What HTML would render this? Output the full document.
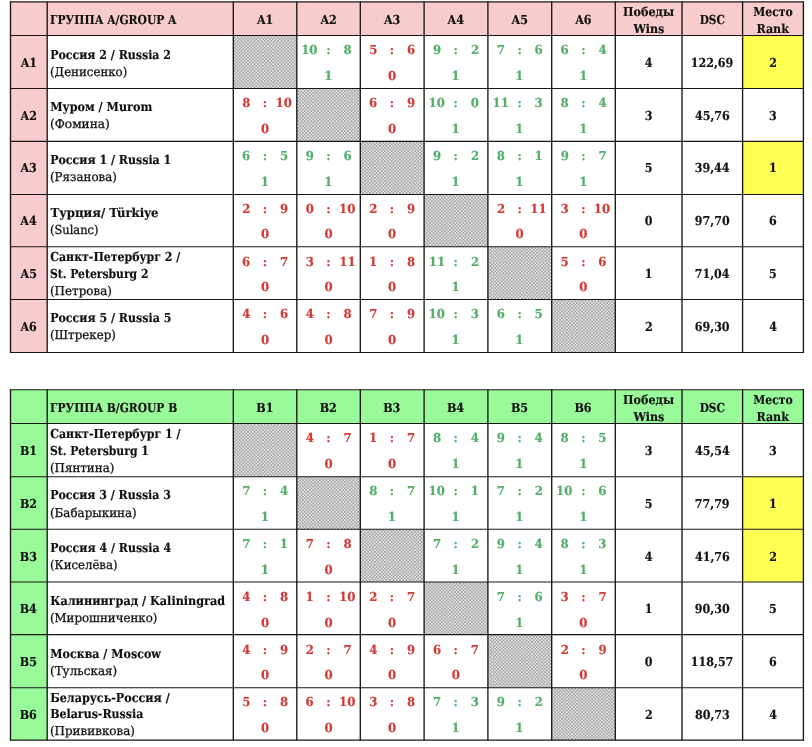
<!DOCTYPE html>
<html lang="ru"><head><meta charset="utf-8"><title>Groups A / B</title>
<style>
html,body{margin:0;padding:0;background:#fff;}
body{width:812px;height:747px;overflow:hidden;}
svg{display:block;font-family:"DejaVu Serif Condensed","DejaVu Serif","Liberation Serif",serif;text-rendering:geometricPrecision;font-stretch:condensed;}
</style></head><body>
<svg width="812" height="747" viewBox="0 0 812 747">
<defs><pattern id="chk" width="3.34" height="3.34" patternUnits="userSpaceOnUse">
<rect width="3.34" height="3.34" fill="#e6e6e6"/><rect width="1.67" height="1.67" fill="#a2a2a2"/><rect x="1.67" y="1.67" width="1.67" height="1.67" fill="#a2a2a2"/>
</pattern></defs>
<rect width="812" height="747" fill="#fff"/>
<rect x="10.50" y="1.90" width="792.90" height="33.60" fill="#f8cccc"/>
<rect x="10.50" y="1.90" width="36.70" height="350.55" fill="#f8cccc"/>
<rect x="233.30" y="35.50" width="63.50" height="53.00" fill="url(#chk)"/>
<rect x="742.60" y="35.50" width="60.80" height="53.00" fill="#ffff54"/>
<rect x="296.80" y="88.50" width="63.50" height="52.90" fill="url(#chk)"/>
<rect x="360.30" y="141.40" width="63.80" height="53.10" fill="url(#chk)"/>
<rect x="742.60" y="141.40" width="60.80" height="53.10" fill="#ffff54"/>
<rect x="424.10" y="194.50" width="63.80" height="52.30" fill="url(#chk)"/>
<rect x="487.90" y="246.80" width="63.80" height="52.70" fill="url(#chk)"/>
<rect x="551.70" y="299.50" width="63.60" height="52.95" fill="url(#chk)"/>
<line x1="10.50" y1="1.40" x2="10.50" y2="352.95" stroke="#1a1617" stroke-width="1.35"/>
<line x1="47.20" y1="1.40" x2="47.20" y2="352.95" stroke="#1a1617" stroke-width="1.35"/>
<line x1="233.30" y1="1.40" x2="233.30" y2="352.95" stroke="#1a1617" stroke-width="1.35"/>
<line x1="296.80" y1="1.40" x2="296.80" y2="352.95" stroke="#1a1617" stroke-width="1.35"/>
<line x1="360.30" y1="1.40" x2="360.30" y2="352.95" stroke="#1a1617" stroke-width="1.35"/>
<line x1="424.10" y1="1.40" x2="424.10" y2="352.95" stroke="#1a1617" stroke-width="1.35"/>
<line x1="487.90" y1="1.40" x2="487.90" y2="352.95" stroke="#1a1617" stroke-width="1.35"/>
<line x1="551.70" y1="1.40" x2="551.70" y2="352.95" stroke="#1a1617" stroke-width="1.35"/>
<line x1="615.30" y1="1.40" x2="615.30" y2="352.95" stroke="#1a1617" stroke-width="1.35"/>
<line x1="682.00" y1="1.40" x2="682.00" y2="352.95" stroke="#1a1617" stroke-width="1.35"/>
<line x1="742.60" y1="1.40" x2="742.60" y2="352.95" stroke="#1a1617" stroke-width="1.35"/>
<line x1="803.40" y1="1.40" x2="803.40" y2="352.95" stroke="#1a1617" stroke-width="1.35"/>
<line x1="9.90" y1="1.90" x2="804.00" y2="1.90" stroke="#1a1617" stroke-width="1.1"/>
<line x1="9.90" y1="35.50" x2="804.00" y2="35.50" stroke="#1a1617" stroke-width="1.1"/>
<line x1="9.90" y1="88.50" x2="804.00" y2="88.50" stroke="#1a1617" stroke-width="1.1"/>
<line x1="9.90" y1="141.40" x2="804.00" y2="141.40" stroke="#1a1617" stroke-width="1.1"/>
<line x1="9.90" y1="194.50" x2="804.00" y2="194.50" stroke="#1a1617" stroke-width="1.1"/>
<line x1="9.90" y1="246.80" x2="804.00" y2="246.80" stroke="#1a1617" stroke-width="1.1"/>
<line x1="9.90" y1="299.50" x2="804.00" y2="299.50" stroke="#1a1617" stroke-width="1.1"/>
<line x1="9.90" y1="352.45" x2="804.00" y2="352.45" stroke="#1a1617" stroke-width="1.1"/>
<text x="50.12" y="24.00" textLength="126.33" lengthAdjust="spacingAndGlyphs" font-size="12.35" font-weight="bold" fill="#111111" stroke="#111111" stroke-width="0.15">ГРУППА A/GROUP A</text>
<text x="256.97" y="24.00" textLength="16.35" lengthAdjust="spacingAndGlyphs" font-size="12.35" font-weight="bold" fill="#111111" stroke="#111111" stroke-width="0.15">A1</text>
<text x="320.41" y="24.00" textLength="16.35" lengthAdjust="spacingAndGlyphs" font-size="12.35" font-weight="bold" fill="#111111" stroke="#111111" stroke-width="0.15">A2</text>
<text x="383.92" y="24.00" textLength="16.35" lengthAdjust="spacingAndGlyphs" font-size="12.35" font-weight="bold" fill="#111111" stroke="#111111" stroke-width="0.15">A3</text>
<text x="447.60" y="24.00" textLength="16.35" lengthAdjust="spacingAndGlyphs" font-size="12.35" font-weight="bold" fill="#111111" stroke="#111111" stroke-width="0.15">A4</text>
<text x="511.58" y="24.00" textLength="16.35" lengthAdjust="spacingAndGlyphs" font-size="12.35" font-weight="bold" fill="#111111" stroke="#111111" stroke-width="0.15">A5</text>
<text x="575.16" y="24.00" textLength="16.35" lengthAdjust="spacingAndGlyphs" font-size="12.35" font-weight="bold" fill="#111111" stroke="#111111" stroke-width="0.15">A6</text>
<text x="623.13" y="16.00" textLength="50.93" lengthAdjust="spacingAndGlyphs" font-size="12.35" font-weight="bold" fill="#111111" stroke="#111111" stroke-width="0.15">Победы</text>
<text x="633.51" y="33.00" textLength="30.82" lengthAdjust="spacingAndGlyphs" font-size="12.35" font-weight="bold" fill="#111111" stroke="#111111" stroke-width="0.15">Wins</text>
<text x="699.68" y="24.00" textLength="25.29" lengthAdjust="spacingAndGlyphs" font-size="12.35" font-weight="bold" fill="#111111" stroke="#111111" stroke-width="0.15">DSC</text>
<text x="753.25" y="16.00" textLength="39.46" lengthAdjust="spacingAndGlyphs" font-size="12.35" font-weight="bold" fill="#111111" stroke="#111111" stroke-width="0.15">Место</text>
<text x="756.40" y="33.00" textLength="32.50" lengthAdjust="spacingAndGlyphs" font-size="12.35" font-weight="bold" fill="#111111" stroke="#111111" stroke-width="0.15">Rank</text>
<text x="20.67" y="67.00" textLength="16.35" lengthAdjust="spacingAndGlyphs" font-size="12.35" font-weight="bold" fill="#111111" stroke="#111111" stroke-width="0.15">A1</text>
<text x="50.21" y="59.00" textLength="120.76" lengthAdjust="spacingAndGlyphs" font-size="12.35" font-weight="bold" fill="#111111" stroke="#111111" stroke-width="0.15">Россия 2 / Russia 2</text>
<text x="49.98" y="76.00" textLength="77.33" lengthAdjust="spacingAndGlyphs" font-size="12.35" font-weight="normal" fill="#111111" stroke="#111111" stroke-width="0.25">(Денисенко)</text>
<text x="301.18" y="54.00" textLength="16.39" lengthAdjust="spacingAndGlyphs" font-size="12.35" font-weight="bold" fill="#52ae68" stroke="#52ae68" stroke-width="0.15">10</text>
<text x="326.32" y="54.00" textLength="4.35" lengthAdjust="spacingAndGlyphs" font-size="12.35" font-weight="bold" fill="#52ae68" stroke="#52ae68" stroke-width="0.15">:</text>
<text x="343.51" y="54.00" textLength="8.19" lengthAdjust="spacingAndGlyphs" font-size="12.35" font-weight="bold" fill="#52ae68" stroke="#52ae68" stroke-width="0.15">8</text>
<text x="324.28" y="80.00" textLength="8.19" lengthAdjust="spacingAndGlyphs" font-size="12.35" font-weight="bold" fill="#52ae68" stroke="#52ae68" stroke-width="0.15">1</text>
<text x="369.16" y="54.00" textLength="8.19" lengthAdjust="spacingAndGlyphs" font-size="12.35" font-weight="bold" fill="#d23b35" stroke="#d23b35" stroke-width="0.15">5</text>
<text x="389.82" y="54.00" textLength="4.35" lengthAdjust="spacingAndGlyphs" font-size="12.35" font-weight="bold" fill="#d23b35" stroke="#d23b35" stroke-width="0.15">:</text>
<text x="406.94" y="54.00" textLength="8.19" lengthAdjust="spacingAndGlyphs" font-size="12.35" font-weight="bold" fill="#d23b35" stroke="#d23b35" stroke-width="0.15">6</text>
<text x="387.91" y="80.00" textLength="8.19" lengthAdjust="spacingAndGlyphs" font-size="12.35" font-weight="bold" fill="#d23b35" stroke="#d23b35" stroke-width="0.15">0</text>
<text x="433.06" y="54.00" textLength="8.19" lengthAdjust="spacingAndGlyphs" font-size="12.35" font-weight="bold" fill="#52ae68" stroke="#52ae68" stroke-width="0.15">9</text>
<text x="453.62" y="54.00" textLength="4.35" lengthAdjust="spacingAndGlyphs" font-size="12.35" font-weight="bold" fill="#52ae68" stroke="#52ae68" stroke-width="0.15">:</text>
<text x="470.92" y="54.00" textLength="8.19" lengthAdjust="spacingAndGlyphs" font-size="12.35" font-weight="bold" fill="#52ae68" stroke="#52ae68" stroke-width="0.15">2</text>
<text x="451.58" y="80.00" textLength="8.19" lengthAdjust="spacingAndGlyphs" font-size="12.35" font-weight="bold" fill="#52ae68" stroke="#52ae68" stroke-width="0.15">1</text>
<text x="496.83" y="54.00" textLength="8.19" lengthAdjust="spacingAndGlyphs" font-size="12.35" font-weight="bold" fill="#52ae68" stroke="#52ae68" stroke-width="0.15">7</text>
<text x="517.42" y="54.00" textLength="4.35" lengthAdjust="spacingAndGlyphs" font-size="12.35" font-weight="bold" fill="#52ae68" stroke="#52ae68" stroke-width="0.15">:</text>
<text x="534.54" y="54.00" textLength="8.19" lengthAdjust="spacingAndGlyphs" font-size="12.35" font-weight="bold" fill="#52ae68" stroke="#52ae68" stroke-width="0.15">6</text>
<text x="515.38" y="80.00" textLength="8.19" lengthAdjust="spacingAndGlyphs" font-size="12.35" font-weight="bold" fill="#52ae68" stroke="#52ae68" stroke-width="0.15">1</text>
<text x="560.54" y="54.00" textLength="8.19" lengthAdjust="spacingAndGlyphs" font-size="12.35" font-weight="bold" fill="#52ae68" stroke="#52ae68" stroke-width="0.15">6</text>
<text x="581.22" y="54.00" textLength="4.35" lengthAdjust="spacingAndGlyphs" font-size="12.35" font-weight="bold" fill="#52ae68" stroke="#52ae68" stroke-width="0.15">:</text>
<text x="598.41" y="54.00" textLength="8.19" lengthAdjust="spacingAndGlyphs" font-size="12.35" font-weight="bold" fill="#52ae68" stroke="#52ae68" stroke-width="0.15">4</text>
<text x="579.18" y="80.00" textLength="8.19" lengthAdjust="spacingAndGlyphs" font-size="12.35" font-weight="bold" fill="#52ae68" stroke="#52ae68" stroke-width="0.15">1</text>
<text x="644.79" y="67.00" textLength="7.73" lengthAdjust="spacingAndGlyphs" font-size="12.35" font-weight="bold" fill="#111111" stroke="#111111" stroke-width="0.15">4</text>
<text x="690.72" y="67.00" textLength="42.52" lengthAdjust="spacingAndGlyphs" font-size="12.35" font-weight="bold" fill="#111111" stroke="#111111" stroke-width="0.15">122,69</text>
<text x="769.25" y="67.00" textLength="7.73" lengthAdjust="spacingAndGlyphs" font-size="12.35" font-weight="bold" fill="#111111" stroke="#111111" stroke-width="0.15">2</text>
<text x="20.61" y="120.00" textLength="16.35" lengthAdjust="spacingAndGlyphs" font-size="12.35" font-weight="bold" fill="#111111" stroke="#111111" stroke-width="0.15">A2</text>
<text x="50.23" y="111.00" textLength="102.00" lengthAdjust="spacingAndGlyphs" font-size="12.35" font-weight="bold" fill="#111111" stroke="#111111" stroke-width="0.15">Муром / Murom</text>
<text x="49.95" y="128.00" textLength="59.91" lengthAdjust="spacingAndGlyphs" font-size="12.35" font-weight="normal" fill="#111111" stroke="#111111" stroke-width="0.25">(Фомина)</text>
<text x="242.21" y="107.00" textLength="8.19" lengthAdjust="spacingAndGlyphs" font-size="12.35" font-weight="bold" fill="#d23b35" stroke="#d23b35" stroke-width="0.15">8</text>
<text x="262.82" y="107.00" textLength="4.35" lengthAdjust="spacingAndGlyphs" font-size="12.35" font-weight="bold" fill="#d23b35" stroke="#d23b35" stroke-width="0.15">:</text>
<text x="275.48" y="107.00" textLength="16.39" lengthAdjust="spacingAndGlyphs" font-size="12.35" font-weight="bold" fill="#d23b35" stroke="#d23b35" stroke-width="0.15">10</text>
<text x="260.91" y="133.00" textLength="8.19" lengthAdjust="spacingAndGlyphs" font-size="12.35" font-weight="bold" fill="#d23b35" stroke="#d23b35" stroke-width="0.15">0</text>
<text x="369.14" y="107.00" textLength="8.19" lengthAdjust="spacingAndGlyphs" font-size="12.35" font-weight="bold" fill="#d23b35" stroke="#d23b35" stroke-width="0.15">6</text>
<text x="389.82" y="107.00" textLength="4.35" lengthAdjust="spacingAndGlyphs" font-size="12.35" font-weight="bold" fill="#d23b35" stroke="#d23b35" stroke-width="0.15">:</text>
<text x="407.06" y="107.00" textLength="8.19" lengthAdjust="spacingAndGlyphs" font-size="12.35" font-weight="bold" fill="#d23b35" stroke="#d23b35" stroke-width="0.15">9</text>
<text x="387.91" y="133.00" textLength="8.19" lengthAdjust="spacingAndGlyphs" font-size="12.35" font-weight="bold" fill="#d23b35" stroke="#d23b35" stroke-width="0.15">0</text>
<text x="428.48" y="107.00" textLength="16.39" lengthAdjust="spacingAndGlyphs" font-size="12.35" font-weight="bold" fill="#52ae68" stroke="#52ae68" stroke-width="0.15">10</text>
<text x="453.62" y="107.00" textLength="4.35" lengthAdjust="spacingAndGlyphs" font-size="12.35" font-weight="bold" fill="#52ae68" stroke="#52ae68" stroke-width="0.15">:</text>
<text x="470.81" y="107.00" textLength="8.19" lengthAdjust="spacingAndGlyphs" font-size="12.35" font-weight="bold" fill="#52ae68" stroke="#52ae68" stroke-width="0.15">0</text>
<text x="451.58" y="133.00" textLength="8.19" lengthAdjust="spacingAndGlyphs" font-size="12.35" font-weight="bold" fill="#52ae68" stroke="#52ae68" stroke-width="0.15">1</text>
<text x="492.59" y="107.00" textLength="16.39" lengthAdjust="spacingAndGlyphs" font-size="12.35" font-weight="bold" fill="#52ae68" stroke="#52ae68" stroke-width="0.15">11</text>
<text x="517.42" y="107.00" textLength="4.35" lengthAdjust="spacingAndGlyphs" font-size="12.35" font-weight="bold" fill="#52ae68" stroke="#52ae68" stroke-width="0.15">:</text>
<text x="534.56" y="107.00" textLength="8.19" lengthAdjust="spacingAndGlyphs" font-size="12.35" font-weight="bold" fill="#52ae68" stroke="#52ae68" stroke-width="0.15">3</text>
<text x="515.38" y="133.00" textLength="8.19" lengthAdjust="spacingAndGlyphs" font-size="12.35" font-weight="bold" fill="#52ae68" stroke="#52ae68" stroke-width="0.15">1</text>
<text x="560.61" y="107.00" textLength="8.19" lengthAdjust="spacingAndGlyphs" font-size="12.35" font-weight="bold" fill="#52ae68" stroke="#52ae68" stroke-width="0.15">8</text>
<text x="581.22" y="107.00" textLength="4.35" lengthAdjust="spacingAndGlyphs" font-size="12.35" font-weight="bold" fill="#52ae68" stroke="#52ae68" stroke-width="0.15">:</text>
<text x="598.41" y="107.00" textLength="8.19" lengthAdjust="spacingAndGlyphs" font-size="12.35" font-weight="bold" fill="#52ae68" stroke="#52ae68" stroke-width="0.15">4</text>
<text x="579.18" y="133.00" textLength="8.19" lengthAdjust="spacingAndGlyphs" font-size="12.35" font-weight="bold" fill="#52ae68" stroke="#52ae68" stroke-width="0.15">1</text>
<text x="644.74" y="120.00" textLength="7.73" lengthAdjust="spacingAndGlyphs" font-size="12.35" font-weight="bold" fill="#111111" stroke="#111111" stroke-width="0.15">3</text>
<text x="694.98" y="120.00" textLength="34.79" lengthAdjust="spacingAndGlyphs" font-size="12.35" font-weight="bold" fill="#111111" stroke="#111111" stroke-width="0.15">45,76</text>
<text x="769.09" y="120.00" textLength="7.73" lengthAdjust="spacingAndGlyphs" font-size="12.35" font-weight="bold" fill="#111111" stroke="#111111" stroke-width="0.15">3</text>
<text x="20.47" y="172.00" textLength="16.35" lengthAdjust="spacingAndGlyphs" font-size="12.35" font-weight="bold" fill="#111111" stroke="#111111" stroke-width="0.15">A3</text>
<text x="50.21" y="164.00" textLength="121.08" lengthAdjust="spacingAndGlyphs" font-size="12.35" font-weight="bold" fill="#111111" stroke="#111111" stroke-width="0.15">Россия 1 / Russia 1</text>
<text x="49.98" y="181.00" textLength="66.85" lengthAdjust="spacingAndGlyphs" font-size="12.35" font-weight="normal" fill="#111111" stroke="#111111" stroke-width="0.25">(Рязанова)</text>
<text x="242.14" y="160.00" textLength="8.19" lengthAdjust="spacingAndGlyphs" font-size="12.35" font-weight="bold" fill="#52ae68" stroke="#52ae68" stroke-width="0.15">6</text>
<text x="262.82" y="160.00" textLength="4.35" lengthAdjust="spacingAndGlyphs" font-size="12.35" font-weight="bold" fill="#52ae68" stroke="#52ae68" stroke-width="0.15">:</text>
<text x="279.96" y="160.00" textLength="8.19" lengthAdjust="spacingAndGlyphs" font-size="12.35" font-weight="bold" fill="#52ae68" stroke="#52ae68" stroke-width="0.15">5</text>
<text x="260.78" y="186.00" textLength="8.19" lengthAdjust="spacingAndGlyphs" font-size="12.35" font-weight="bold" fill="#52ae68" stroke="#52ae68" stroke-width="0.15">1</text>
<text x="305.76" y="160.00" textLength="8.19" lengthAdjust="spacingAndGlyphs" font-size="12.35" font-weight="bold" fill="#52ae68" stroke="#52ae68" stroke-width="0.15">9</text>
<text x="326.32" y="160.00" textLength="4.35" lengthAdjust="spacingAndGlyphs" font-size="12.35" font-weight="bold" fill="#52ae68" stroke="#52ae68" stroke-width="0.15">:</text>
<text x="343.44" y="160.00" textLength="8.19" lengthAdjust="spacingAndGlyphs" font-size="12.35" font-weight="bold" fill="#52ae68" stroke="#52ae68" stroke-width="0.15">6</text>
<text x="324.28" y="186.00" textLength="8.19" lengthAdjust="spacingAndGlyphs" font-size="12.35" font-weight="bold" fill="#52ae68" stroke="#52ae68" stroke-width="0.15">1</text>
<text x="433.06" y="160.00" textLength="8.19" lengthAdjust="spacingAndGlyphs" font-size="12.35" font-weight="bold" fill="#52ae68" stroke="#52ae68" stroke-width="0.15">9</text>
<text x="453.62" y="160.00" textLength="4.35" lengthAdjust="spacingAndGlyphs" font-size="12.35" font-weight="bold" fill="#52ae68" stroke="#52ae68" stroke-width="0.15">:</text>
<text x="470.92" y="160.00" textLength="8.19" lengthAdjust="spacingAndGlyphs" font-size="12.35" font-weight="bold" fill="#52ae68" stroke="#52ae68" stroke-width="0.15">2</text>
<text x="451.58" y="186.00" textLength="8.19" lengthAdjust="spacingAndGlyphs" font-size="12.35" font-weight="bold" fill="#52ae68" stroke="#52ae68" stroke-width="0.15">1</text>
<text x="496.81" y="160.00" textLength="8.19" lengthAdjust="spacingAndGlyphs" font-size="12.35" font-weight="bold" fill="#52ae68" stroke="#52ae68" stroke-width="0.15">8</text>
<text x="517.42" y="160.00" textLength="4.35" lengthAdjust="spacingAndGlyphs" font-size="12.35" font-weight="bold" fill="#52ae68" stroke="#52ae68" stroke-width="0.15">:</text>
<text x="534.48" y="160.00" textLength="8.19" lengthAdjust="spacingAndGlyphs" font-size="12.35" font-weight="bold" fill="#52ae68" stroke="#52ae68" stroke-width="0.15">1</text>
<text x="515.38" y="186.00" textLength="8.19" lengthAdjust="spacingAndGlyphs" font-size="12.35" font-weight="bold" fill="#52ae68" stroke="#52ae68" stroke-width="0.15">1</text>
<text x="560.66" y="160.00" textLength="8.19" lengthAdjust="spacingAndGlyphs" font-size="12.35" font-weight="bold" fill="#52ae68" stroke="#52ae68" stroke-width="0.15">9</text>
<text x="581.22" y="160.00" textLength="4.35" lengthAdjust="spacingAndGlyphs" font-size="12.35" font-weight="bold" fill="#52ae68" stroke="#52ae68" stroke-width="0.15">:</text>
<text x="598.43" y="160.00" textLength="8.19" lengthAdjust="spacingAndGlyphs" font-size="12.35" font-weight="bold" fill="#52ae68" stroke="#52ae68" stroke-width="0.15">7</text>
<text x="579.18" y="186.00" textLength="8.19" lengthAdjust="spacingAndGlyphs" font-size="12.35" font-weight="bold" fill="#52ae68" stroke="#52ae68" stroke-width="0.15">1</text>
<text x="644.74" y="172.00" textLength="7.73" lengthAdjust="spacingAndGlyphs" font-size="12.35" font-weight="bold" fill="#111111" stroke="#111111" stroke-width="0.15">5</text>
<text x="694.75" y="172.00" textLength="34.79" lengthAdjust="spacingAndGlyphs" font-size="12.35" font-weight="bold" fill="#111111" stroke="#111111" stroke-width="0.15">39,44</text>
<text x="769.02" y="172.00" textLength="7.73" lengthAdjust="spacingAndGlyphs" font-size="12.35" font-weight="bold" fill="#111111" stroke="#111111" stroke-width="0.15">1</text>
<text x="20.35" y="225.00" textLength="16.35" lengthAdjust="spacingAndGlyphs" font-size="12.35" font-weight="bold" fill="#111111" stroke="#111111" stroke-width="0.15">A4</text>
<text x="50.57" y="217.00" textLength="107.83" lengthAdjust="spacingAndGlyphs" font-size="12.35" font-weight="bold" fill="#111111" stroke="#111111" stroke-width="0.15">Турция/ Türkiye</text>
<text x="50.01" y="234.00" textLength="48.38" lengthAdjust="spacingAndGlyphs" font-size="12.35" font-weight="normal" fill="#111111" stroke="#111111" stroke-width="0.25">(Sulanc)</text>
<text x="242.32" y="213.00" textLength="8.19" lengthAdjust="spacingAndGlyphs" font-size="12.35" font-weight="bold" fill="#d23b35" stroke="#d23b35" stroke-width="0.15">2</text>
<text x="262.82" y="213.00" textLength="4.35" lengthAdjust="spacingAndGlyphs" font-size="12.35" font-weight="bold" fill="#d23b35" stroke="#d23b35" stroke-width="0.15">:</text>
<text x="280.06" y="213.00" textLength="8.19" lengthAdjust="spacingAndGlyphs" font-size="12.35" font-weight="bold" fill="#d23b35" stroke="#d23b35" stroke-width="0.15">9</text>
<text x="260.91" y="238.00" textLength="8.19" lengthAdjust="spacingAndGlyphs" font-size="12.35" font-weight="bold" fill="#d23b35" stroke="#d23b35" stroke-width="0.15">0</text>
<text x="305.71" y="213.00" textLength="8.19" lengthAdjust="spacingAndGlyphs" font-size="12.35" font-weight="bold" fill="#d23b35" stroke="#d23b35" stroke-width="0.15">0</text>
<text x="326.32" y="213.00" textLength="4.35" lengthAdjust="spacingAndGlyphs" font-size="12.35" font-weight="bold" fill="#d23b35" stroke="#d23b35" stroke-width="0.15">:</text>
<text x="338.98" y="213.00" textLength="16.39" lengthAdjust="spacingAndGlyphs" font-size="12.35" font-weight="bold" fill="#d23b35" stroke="#d23b35" stroke-width="0.15">10</text>
<text x="324.41" y="238.00" textLength="8.19" lengthAdjust="spacingAndGlyphs" font-size="12.35" font-weight="bold" fill="#d23b35" stroke="#d23b35" stroke-width="0.15">0</text>
<text x="369.32" y="213.00" textLength="8.19" lengthAdjust="spacingAndGlyphs" font-size="12.35" font-weight="bold" fill="#d23b35" stroke="#d23b35" stroke-width="0.15">2</text>
<text x="389.82" y="213.00" textLength="4.35" lengthAdjust="spacingAndGlyphs" font-size="12.35" font-weight="bold" fill="#d23b35" stroke="#d23b35" stroke-width="0.15">:</text>
<text x="407.06" y="213.00" textLength="8.19" lengthAdjust="spacingAndGlyphs" font-size="12.35" font-weight="bold" fill="#d23b35" stroke="#d23b35" stroke-width="0.15">9</text>
<text x="387.91" y="238.00" textLength="8.19" lengthAdjust="spacingAndGlyphs" font-size="12.35" font-weight="bold" fill="#d23b35" stroke="#d23b35" stroke-width="0.15">0</text>
<text x="496.92" y="213.00" textLength="8.19" lengthAdjust="spacingAndGlyphs" font-size="12.35" font-weight="bold" fill="#d23b35" stroke="#d23b35" stroke-width="0.15">2</text>
<text x="517.42" y="213.00" textLength="4.35" lengthAdjust="spacingAndGlyphs" font-size="12.35" font-weight="bold" fill="#d23b35" stroke="#d23b35" stroke-width="0.15">:</text>
<text x="530.39" y="213.00" textLength="16.39" lengthAdjust="spacingAndGlyphs" font-size="12.35" font-weight="bold" fill="#d23b35" stroke="#d23b35" stroke-width="0.15">11</text>
<text x="515.51" y="238.00" textLength="8.19" lengthAdjust="spacingAndGlyphs" font-size="12.35" font-weight="bold" fill="#d23b35" stroke="#d23b35" stroke-width="0.15">0</text>
<text x="560.56" y="213.00" textLength="8.19" lengthAdjust="spacingAndGlyphs" font-size="12.35" font-weight="bold" fill="#d23b35" stroke="#d23b35" stroke-width="0.15">3</text>
<text x="581.22" y="213.00" textLength="4.35" lengthAdjust="spacingAndGlyphs" font-size="12.35" font-weight="bold" fill="#d23b35" stroke="#d23b35" stroke-width="0.15">:</text>
<text x="593.88" y="213.00" textLength="16.39" lengthAdjust="spacingAndGlyphs" font-size="12.35" font-weight="bold" fill="#d23b35" stroke="#d23b35" stroke-width="0.15">10</text>
<text x="579.31" y="238.00" textLength="8.19" lengthAdjust="spacingAndGlyphs" font-size="12.35" font-weight="bold" fill="#d23b35" stroke="#d23b35" stroke-width="0.15">0</text>
<text x="644.79" y="225.00" textLength="7.73" lengthAdjust="spacingAndGlyphs" font-size="12.35" font-weight="bold" fill="#111111" stroke="#111111" stroke-width="0.15">0</text>
<text x="694.87" y="225.00" textLength="34.79" lengthAdjust="spacingAndGlyphs" font-size="12.35" font-weight="bold" fill="#111111" stroke="#111111" stroke-width="0.15">97,70</text>
<text x="769.08" y="225.00" textLength="7.73" lengthAdjust="spacingAndGlyphs" font-size="12.35" font-weight="bold" fill="#111111" stroke="#111111" stroke-width="0.15">6</text>
<text x="20.53" y="278.00" textLength="16.35" lengthAdjust="spacingAndGlyphs" font-size="12.35" font-weight="bold" fill="#111111" stroke="#111111" stroke-width="0.15">A5</text>
<text x="50.24" y="261.00" textLength="130.04" lengthAdjust="spacingAndGlyphs" font-size="12.35" font-weight="bold" fill="#111111" stroke="#111111" stroke-width="0.15">Санкт-Петербург 2 /</text>
<text x="50.01" y="278.00" textLength="98.42" lengthAdjust="spacingAndGlyphs" font-size="12.35" font-weight="bold" fill="#111111" stroke="#111111" stroke-width="0.15">St. Petersburg 2</text>
<text x="49.97" y="295.00" textLength="61.97" lengthAdjust="spacingAndGlyphs" font-size="12.35" font-weight="normal" fill="#111111" stroke="#111111" stroke-width="0.25">(Петрова)</text>
<text x="242.14" y="266.00" textLength="8.19" lengthAdjust="spacingAndGlyphs" font-size="12.35" font-weight="bold" fill="#d23b35" stroke="#d23b35" stroke-width="0.15">6</text>
<text x="262.82" y="266.00" textLength="4.35" lengthAdjust="spacingAndGlyphs" font-size="12.35" font-weight="bold" fill="#d23b35" stroke="#d23b35" stroke-width="0.15">:</text>
<text x="280.03" y="266.00" textLength="8.19" lengthAdjust="spacingAndGlyphs" font-size="12.35" font-weight="bold" fill="#d23b35" stroke="#d23b35" stroke-width="0.15">7</text>
<text x="260.91" y="291.00" textLength="8.19" lengthAdjust="spacingAndGlyphs" font-size="12.35" font-weight="bold" fill="#d23b35" stroke="#d23b35" stroke-width="0.15">0</text>
<text x="305.66" y="266.00" textLength="8.19" lengthAdjust="spacingAndGlyphs" font-size="12.35" font-weight="bold" fill="#d23b35" stroke="#d23b35" stroke-width="0.15">3</text>
<text x="326.32" y="266.00" textLength="4.35" lengthAdjust="spacingAndGlyphs" font-size="12.35" font-weight="bold" fill="#d23b35" stroke="#d23b35" stroke-width="0.15">:</text>
<text x="339.29" y="266.00" textLength="16.39" lengthAdjust="spacingAndGlyphs" font-size="12.35" font-weight="bold" fill="#d23b35" stroke="#d23b35" stroke-width="0.15">11</text>
<text x="324.41" y="291.00" textLength="8.19" lengthAdjust="spacingAndGlyphs" font-size="12.35" font-weight="bold" fill="#d23b35" stroke="#d23b35" stroke-width="0.15">0</text>
<text x="369.08" y="266.00" textLength="8.19" lengthAdjust="spacingAndGlyphs" font-size="12.35" font-weight="bold" fill="#d23b35" stroke="#d23b35" stroke-width="0.15">1</text>
<text x="389.82" y="266.00" textLength="4.35" lengthAdjust="spacingAndGlyphs" font-size="12.35" font-weight="bold" fill="#d23b35" stroke="#d23b35" stroke-width="0.15">:</text>
<text x="407.01" y="266.00" textLength="8.19" lengthAdjust="spacingAndGlyphs" font-size="12.35" font-weight="bold" fill="#d23b35" stroke="#d23b35" stroke-width="0.15">8</text>
<text x="387.91" y="291.00" textLength="8.19" lengthAdjust="spacingAndGlyphs" font-size="12.35" font-weight="bold" fill="#d23b35" stroke="#d23b35" stroke-width="0.15">0</text>
<text x="428.79" y="266.00" textLength="16.39" lengthAdjust="spacingAndGlyphs" font-size="12.35" font-weight="bold" fill="#52ae68" stroke="#52ae68" stroke-width="0.15">11</text>
<text x="453.62" y="266.00" textLength="4.35" lengthAdjust="spacingAndGlyphs" font-size="12.35" font-weight="bold" fill="#52ae68" stroke="#52ae68" stroke-width="0.15">:</text>
<text x="470.92" y="266.00" textLength="8.19" lengthAdjust="spacingAndGlyphs" font-size="12.35" font-weight="bold" fill="#52ae68" stroke="#52ae68" stroke-width="0.15">2</text>
<text x="451.58" y="291.00" textLength="8.19" lengthAdjust="spacingAndGlyphs" font-size="12.35" font-weight="bold" fill="#52ae68" stroke="#52ae68" stroke-width="0.15">1</text>
<text x="560.56" y="266.00" textLength="8.19" lengthAdjust="spacingAndGlyphs" font-size="12.35" font-weight="bold" fill="#d23b35" stroke="#d23b35" stroke-width="0.15">5</text>
<text x="581.22" y="266.00" textLength="4.35" lengthAdjust="spacingAndGlyphs" font-size="12.35" font-weight="bold" fill="#d23b35" stroke="#d23b35" stroke-width="0.15">:</text>
<text x="598.34" y="266.00" textLength="8.19" lengthAdjust="spacingAndGlyphs" font-size="12.35" font-weight="bold" fill="#d23b35" stroke="#d23b35" stroke-width="0.15">6</text>
<text x="579.31" y="291.00" textLength="8.19" lengthAdjust="spacingAndGlyphs" font-size="12.35" font-weight="bold" fill="#d23b35" stroke="#d23b35" stroke-width="0.15">0</text>
<text x="644.67" y="278.00" textLength="7.73" lengthAdjust="spacingAndGlyphs" font-size="12.35" font-weight="bold" fill="#111111" stroke="#111111" stroke-width="0.15">1</text>
<text x="694.70" y="278.00" textLength="34.79" lengthAdjust="spacingAndGlyphs" font-size="12.35" font-weight="bold" fill="#111111" stroke="#111111" stroke-width="0.15">71,04</text>
<text x="769.09" y="278.00" textLength="7.73" lengthAdjust="spacingAndGlyphs" font-size="12.35" font-weight="bold" fill="#111111" stroke="#111111" stroke-width="0.15">5</text>
<text x="20.41" y="331.00" textLength="16.35" lengthAdjust="spacingAndGlyphs" font-size="12.35" font-weight="bold" fill="#111111" stroke="#111111" stroke-width="0.15">A6</text>
<text x="50.21" y="322.00" textLength="121.11" lengthAdjust="spacingAndGlyphs" font-size="12.35" font-weight="bold" fill="#111111" stroke="#111111" stroke-width="0.15">Россия 5 / Russia 5</text>
<text x="49.98" y="339.00" textLength="65.94" lengthAdjust="spacingAndGlyphs" font-size="12.35" font-weight="normal" fill="#111111" stroke="#111111" stroke-width="0.25">(Штрекер)</text>
<text x="242.21" y="318.00" textLength="8.19" lengthAdjust="spacingAndGlyphs" font-size="12.35" font-weight="bold" fill="#d23b35" stroke="#d23b35" stroke-width="0.15">4</text>
<text x="262.82" y="318.00" textLength="4.35" lengthAdjust="spacingAndGlyphs" font-size="12.35" font-weight="bold" fill="#d23b35" stroke="#d23b35" stroke-width="0.15">:</text>
<text x="279.94" y="318.00" textLength="8.19" lengthAdjust="spacingAndGlyphs" font-size="12.35" font-weight="bold" fill="#d23b35" stroke="#d23b35" stroke-width="0.15">6</text>
<text x="260.91" y="344.00" textLength="8.19" lengthAdjust="spacingAndGlyphs" font-size="12.35" font-weight="bold" fill="#d23b35" stroke="#d23b35" stroke-width="0.15">0</text>
<text x="305.71" y="318.00" textLength="8.19" lengthAdjust="spacingAndGlyphs" font-size="12.35" font-weight="bold" fill="#d23b35" stroke="#d23b35" stroke-width="0.15">4</text>
<text x="326.32" y="318.00" textLength="4.35" lengthAdjust="spacingAndGlyphs" font-size="12.35" font-weight="bold" fill="#d23b35" stroke="#d23b35" stroke-width="0.15">:</text>
<text x="343.51" y="318.00" textLength="8.19" lengthAdjust="spacingAndGlyphs" font-size="12.35" font-weight="bold" fill="#d23b35" stroke="#d23b35" stroke-width="0.15">8</text>
<text x="324.41" y="344.00" textLength="8.19" lengthAdjust="spacingAndGlyphs" font-size="12.35" font-weight="bold" fill="#d23b35" stroke="#d23b35" stroke-width="0.15">0</text>
<text x="369.23" y="318.00" textLength="8.19" lengthAdjust="spacingAndGlyphs" font-size="12.35" font-weight="bold" fill="#d23b35" stroke="#d23b35" stroke-width="0.15">7</text>
<text x="389.82" y="318.00" textLength="4.35" lengthAdjust="spacingAndGlyphs" font-size="12.35" font-weight="bold" fill="#d23b35" stroke="#d23b35" stroke-width="0.15">:</text>
<text x="407.06" y="318.00" textLength="8.19" lengthAdjust="spacingAndGlyphs" font-size="12.35" font-weight="bold" fill="#d23b35" stroke="#d23b35" stroke-width="0.15">9</text>
<text x="387.91" y="344.00" textLength="8.19" lengthAdjust="spacingAndGlyphs" font-size="12.35" font-weight="bold" fill="#d23b35" stroke="#d23b35" stroke-width="0.15">0</text>
<text x="428.48" y="318.00" textLength="16.39" lengthAdjust="spacingAndGlyphs" font-size="12.35" font-weight="bold" fill="#52ae68" stroke="#52ae68" stroke-width="0.15">10</text>
<text x="453.62" y="318.00" textLength="4.35" lengthAdjust="spacingAndGlyphs" font-size="12.35" font-weight="bold" fill="#52ae68" stroke="#52ae68" stroke-width="0.15">:</text>
<text x="470.76" y="318.00" textLength="8.19" lengthAdjust="spacingAndGlyphs" font-size="12.35" font-weight="bold" fill="#52ae68" stroke="#52ae68" stroke-width="0.15">3</text>
<text x="451.58" y="344.00" textLength="8.19" lengthAdjust="spacingAndGlyphs" font-size="12.35" font-weight="bold" fill="#52ae68" stroke="#52ae68" stroke-width="0.15">1</text>
<text x="496.74" y="318.00" textLength="8.19" lengthAdjust="spacingAndGlyphs" font-size="12.35" font-weight="bold" fill="#52ae68" stroke="#52ae68" stroke-width="0.15">6</text>
<text x="517.42" y="318.00" textLength="4.35" lengthAdjust="spacingAndGlyphs" font-size="12.35" font-weight="bold" fill="#52ae68" stroke="#52ae68" stroke-width="0.15">:</text>
<text x="534.56" y="318.00" textLength="8.19" lengthAdjust="spacingAndGlyphs" font-size="12.35" font-weight="bold" fill="#52ae68" stroke="#52ae68" stroke-width="0.15">5</text>
<text x="515.38" y="344.00" textLength="8.19" lengthAdjust="spacingAndGlyphs" font-size="12.35" font-weight="bold" fill="#52ae68" stroke="#52ae68" stroke-width="0.15">1</text>
<text x="644.90" y="331.00" textLength="7.73" lengthAdjust="spacingAndGlyphs" font-size="12.35" font-weight="bold" fill="#111111" stroke="#111111" stroke-width="0.15">2</text>
<text x="694.82" y="331.00" textLength="34.79" lengthAdjust="spacingAndGlyphs" font-size="12.35" font-weight="bold" fill="#111111" stroke="#111111" stroke-width="0.15">69,30</text>
<text x="769.14" y="331.00" textLength="7.73" lengthAdjust="spacingAndGlyphs" font-size="12.35" font-weight="bold" fill="#111111" stroke="#111111" stroke-width="0.15">4</text>
<rect x="10.50" y="389.80" width="792.90" height="33.70" fill="#98fa98"/>
<rect x="10.50" y="389.80" width="36.70" height="350.30" fill="#98fa98"/>
<rect x="233.30" y="423.50" width="63.50" height="53.20" fill="url(#chk)"/>
<rect x="296.80" y="476.70" width="63.50" height="52.60" fill="url(#chk)"/>
<rect x="742.60" y="476.70" width="60.80" height="52.60" fill="#ffff54"/>
<rect x="360.30" y="529.30" width="63.80" height="52.70" fill="url(#chk)"/>
<rect x="742.60" y="529.30" width="60.80" height="52.70" fill="#ffff54"/>
<rect x="424.10" y="582.00" width="63.80" height="52.60" fill="url(#chk)"/>
<rect x="487.90" y="634.60" width="63.80" height="53.10" fill="url(#chk)"/>
<rect x="551.70" y="687.70" width="63.60" height="52.40" fill="url(#chk)"/>
<line x1="10.50" y1="389.30" x2="10.50" y2="740.60" stroke="#1a1617" stroke-width="1.35"/>
<line x1="47.20" y1="389.30" x2="47.20" y2="740.60" stroke="#1a1617" stroke-width="1.35"/>
<line x1="233.30" y1="389.30" x2="233.30" y2="740.60" stroke="#1a1617" stroke-width="1.35"/>
<line x1="296.80" y1="389.30" x2="296.80" y2="740.60" stroke="#1a1617" stroke-width="1.35"/>
<line x1="360.30" y1="389.30" x2="360.30" y2="740.60" stroke="#1a1617" stroke-width="1.35"/>
<line x1="424.10" y1="389.30" x2="424.10" y2="740.60" stroke="#1a1617" stroke-width="1.35"/>
<line x1="487.90" y1="389.30" x2="487.90" y2="740.60" stroke="#1a1617" stroke-width="1.35"/>
<line x1="551.70" y1="389.30" x2="551.70" y2="740.60" stroke="#1a1617" stroke-width="1.35"/>
<line x1="615.30" y1="389.30" x2="615.30" y2="740.60" stroke="#1a1617" stroke-width="1.35"/>
<line x1="682.00" y1="389.30" x2="682.00" y2="740.60" stroke="#1a1617" stroke-width="1.35"/>
<line x1="742.60" y1="389.30" x2="742.60" y2="740.60" stroke="#1a1617" stroke-width="1.35"/>
<line x1="803.40" y1="389.30" x2="803.40" y2="740.60" stroke="#1a1617" stroke-width="1.35"/>
<line x1="9.90" y1="389.80" x2="804.00" y2="389.80" stroke="#1a1617" stroke-width="1.1"/>
<line x1="9.90" y1="423.50" x2="804.00" y2="423.50" stroke="#1a1617" stroke-width="1.1"/>
<line x1="9.90" y1="476.70" x2="804.00" y2="476.70" stroke="#1a1617" stroke-width="1.1"/>
<line x1="9.90" y1="529.30" x2="804.00" y2="529.30" stroke="#1a1617" stroke-width="1.1"/>
<line x1="9.90" y1="582.00" x2="804.00" y2="582.00" stroke="#1a1617" stroke-width="1.1"/>
<line x1="9.90" y1="634.60" x2="804.00" y2="634.60" stroke="#1a1617" stroke-width="1.1"/>
<line x1="9.90" y1="687.70" x2="804.00" y2="687.70" stroke="#1a1617" stroke-width="1.1"/>
<line x1="9.90" y1="740.10" x2="804.00" y2="740.10" stroke="#1a1617" stroke-width="1.1"/>
<text x="50.12" y="412.00" textLength="127.06" lengthAdjust="spacingAndGlyphs" font-size="12.35" font-weight="bold" fill="#111111" stroke="#111111" stroke-width="0.15">ГРУППА B/GROUP B</text>
<text x="256.29" y="412.00" textLength="17.12" lengthAdjust="spacingAndGlyphs" font-size="12.35" font-weight="bold" fill="#111111" stroke="#111111" stroke-width="0.15">B1</text>
<text x="319.73" y="412.00" textLength="17.12" lengthAdjust="spacingAndGlyphs" font-size="12.35" font-weight="bold" fill="#111111" stroke="#111111" stroke-width="0.15">B2</text>
<text x="383.24" y="412.00" textLength="17.12" lengthAdjust="spacingAndGlyphs" font-size="12.35" font-weight="bold" fill="#111111" stroke="#111111" stroke-width="0.15">B3</text>
<text x="446.92" y="412.00" textLength="17.12" lengthAdjust="spacingAndGlyphs" font-size="12.35" font-weight="bold" fill="#111111" stroke="#111111" stroke-width="0.15">B4</text>
<text x="510.90" y="412.00" textLength="17.12" lengthAdjust="spacingAndGlyphs" font-size="12.35" font-weight="bold" fill="#111111" stroke="#111111" stroke-width="0.15">B5</text>
<text x="574.48" y="412.00" textLength="17.12" lengthAdjust="spacingAndGlyphs" font-size="12.35" font-weight="bold" fill="#111111" stroke="#111111" stroke-width="0.15">B6</text>
<text x="623.13" y="404.00" textLength="50.93" lengthAdjust="spacingAndGlyphs" font-size="12.35" font-weight="bold" fill="#111111" stroke="#111111" stroke-width="0.15">Победы</text>
<text x="633.51" y="421.00" textLength="30.82" lengthAdjust="spacingAndGlyphs" font-size="12.35" font-weight="bold" fill="#111111" stroke="#111111" stroke-width="0.15">Wins</text>
<text x="699.68" y="412.00" textLength="25.29" lengthAdjust="spacingAndGlyphs" font-size="12.35" font-weight="bold" fill="#111111" stroke="#111111" stroke-width="0.15">DSC</text>
<text x="753.25" y="404.00" textLength="39.46" lengthAdjust="spacingAndGlyphs" font-size="12.35" font-weight="bold" fill="#111111" stroke="#111111" stroke-width="0.15">Место</text>
<text x="756.40" y="421.00" textLength="32.50" lengthAdjust="spacingAndGlyphs" font-size="12.35" font-weight="bold" fill="#111111" stroke="#111111" stroke-width="0.15">Rank</text>
<text x="19.99" y="455.00" textLength="17.12" lengthAdjust="spacingAndGlyphs" font-size="12.35" font-weight="bold" fill="#111111" stroke="#111111" stroke-width="0.15">B1</text>
<text x="50.24" y="438.00" textLength="130.25" lengthAdjust="spacingAndGlyphs" font-size="12.35" font-weight="bold" fill="#111111" stroke="#111111" stroke-width="0.15">Санкт-Петербург 1 /</text>
<text x="50.01" y="455.00" textLength="98.84" lengthAdjust="spacingAndGlyphs" font-size="12.35" font-weight="bold" fill="#111111" stroke="#111111" stroke-width="0.15">St. Petersburg 1</text>
<text x="49.98" y="472.00" textLength="64.37" lengthAdjust="spacingAndGlyphs" font-size="12.35" font-weight="normal" fill="#111111" stroke="#111111" stroke-width="0.25">(Пянтина)</text>
<text x="305.71" y="442.00" textLength="8.19" lengthAdjust="spacingAndGlyphs" font-size="12.35" font-weight="bold" fill="#d23b35" stroke="#d23b35" stroke-width="0.15">4</text>
<text x="326.32" y="442.00" textLength="4.35" lengthAdjust="spacingAndGlyphs" font-size="12.35" font-weight="bold" fill="#d23b35" stroke="#d23b35" stroke-width="0.15">:</text>
<text x="343.53" y="442.00" textLength="8.19" lengthAdjust="spacingAndGlyphs" font-size="12.35" font-weight="bold" fill="#d23b35" stroke="#d23b35" stroke-width="0.15">7</text>
<text x="324.41" y="468.00" textLength="8.19" lengthAdjust="spacingAndGlyphs" font-size="12.35" font-weight="bold" fill="#d23b35" stroke="#d23b35" stroke-width="0.15">0</text>
<text x="369.08" y="442.00" textLength="8.19" lengthAdjust="spacingAndGlyphs" font-size="12.35" font-weight="bold" fill="#d23b35" stroke="#d23b35" stroke-width="0.15">1</text>
<text x="389.82" y="442.00" textLength="4.35" lengthAdjust="spacingAndGlyphs" font-size="12.35" font-weight="bold" fill="#d23b35" stroke="#d23b35" stroke-width="0.15">:</text>
<text x="407.03" y="442.00" textLength="8.19" lengthAdjust="spacingAndGlyphs" font-size="12.35" font-weight="bold" fill="#d23b35" stroke="#d23b35" stroke-width="0.15">7</text>
<text x="387.91" y="468.00" textLength="8.19" lengthAdjust="spacingAndGlyphs" font-size="12.35" font-weight="bold" fill="#d23b35" stroke="#d23b35" stroke-width="0.15">0</text>
<text x="433.01" y="442.00" textLength="8.19" lengthAdjust="spacingAndGlyphs" font-size="12.35" font-weight="bold" fill="#52ae68" stroke="#52ae68" stroke-width="0.15">8</text>
<text x="453.62" y="442.00" textLength="4.35" lengthAdjust="spacingAndGlyphs" font-size="12.35" font-weight="bold" fill="#52ae68" stroke="#52ae68" stroke-width="0.15">:</text>
<text x="470.81" y="442.00" textLength="8.19" lengthAdjust="spacingAndGlyphs" font-size="12.35" font-weight="bold" fill="#52ae68" stroke="#52ae68" stroke-width="0.15">4</text>
<text x="451.58" y="468.00" textLength="8.19" lengthAdjust="spacingAndGlyphs" font-size="12.35" font-weight="bold" fill="#52ae68" stroke="#52ae68" stroke-width="0.15">1</text>
<text x="496.86" y="442.00" textLength="8.19" lengthAdjust="spacingAndGlyphs" font-size="12.35" font-weight="bold" fill="#52ae68" stroke="#52ae68" stroke-width="0.15">9</text>
<text x="517.42" y="442.00" textLength="4.35" lengthAdjust="spacingAndGlyphs" font-size="12.35" font-weight="bold" fill="#52ae68" stroke="#52ae68" stroke-width="0.15">:</text>
<text x="534.61" y="442.00" textLength="8.19" lengthAdjust="spacingAndGlyphs" font-size="12.35" font-weight="bold" fill="#52ae68" stroke="#52ae68" stroke-width="0.15">4</text>
<text x="515.38" y="468.00" textLength="8.19" lengthAdjust="spacingAndGlyphs" font-size="12.35" font-weight="bold" fill="#52ae68" stroke="#52ae68" stroke-width="0.15">1</text>
<text x="560.61" y="442.00" textLength="8.19" lengthAdjust="spacingAndGlyphs" font-size="12.35" font-weight="bold" fill="#52ae68" stroke="#52ae68" stroke-width="0.15">8</text>
<text x="581.22" y="442.00" textLength="4.35" lengthAdjust="spacingAndGlyphs" font-size="12.35" font-weight="bold" fill="#52ae68" stroke="#52ae68" stroke-width="0.15">:</text>
<text x="598.36" y="442.00" textLength="8.19" lengthAdjust="spacingAndGlyphs" font-size="12.35" font-weight="bold" fill="#52ae68" stroke="#52ae68" stroke-width="0.15">5</text>
<text x="579.18" y="468.00" textLength="8.19" lengthAdjust="spacingAndGlyphs" font-size="12.35" font-weight="bold" fill="#52ae68" stroke="#52ae68" stroke-width="0.15">1</text>
<text x="644.74" y="455.00" textLength="7.73" lengthAdjust="spacingAndGlyphs" font-size="12.35" font-weight="bold" fill="#111111" stroke="#111111" stroke-width="0.15">3</text>
<text x="694.92" y="455.00" textLength="34.79" lengthAdjust="spacingAndGlyphs" font-size="12.35" font-weight="bold" fill="#111111" stroke="#111111" stroke-width="0.15">45,54</text>
<text x="769.09" y="455.00" textLength="7.73" lengthAdjust="spacingAndGlyphs" font-size="12.35" font-weight="bold" fill="#111111" stroke="#111111" stroke-width="0.15">3</text>
<text x="19.93" y="508.00" textLength="17.12" lengthAdjust="spacingAndGlyphs" font-size="12.35" font-weight="bold" fill="#111111" stroke="#111111" stroke-width="0.15">B2</text>
<text x="50.21" y="499.00" textLength="120.68" lengthAdjust="spacingAndGlyphs" font-size="12.35" font-weight="bold" fill="#111111" stroke="#111111" stroke-width="0.15">Россия 3 / Russia 3</text>
<text x="49.98" y="517.00" textLength="86.78" lengthAdjust="spacingAndGlyphs" font-size="12.35" font-weight="normal" fill="#111111" stroke="#111111" stroke-width="0.25">(Бабарыкина)</text>
<text x="242.23" y="495.00" textLength="8.19" lengthAdjust="spacingAndGlyphs" font-size="12.35" font-weight="bold" fill="#52ae68" stroke="#52ae68" stroke-width="0.15">7</text>
<text x="262.82" y="495.00" textLength="4.35" lengthAdjust="spacingAndGlyphs" font-size="12.35" font-weight="bold" fill="#52ae68" stroke="#52ae68" stroke-width="0.15">:</text>
<text x="280.01" y="495.00" textLength="8.19" lengthAdjust="spacingAndGlyphs" font-size="12.35" font-weight="bold" fill="#52ae68" stroke="#52ae68" stroke-width="0.15">4</text>
<text x="260.78" y="521.00" textLength="8.19" lengthAdjust="spacingAndGlyphs" font-size="12.35" font-weight="bold" fill="#52ae68" stroke="#52ae68" stroke-width="0.15">1</text>
<text x="369.21" y="495.00" textLength="8.19" lengthAdjust="spacingAndGlyphs" font-size="12.35" font-weight="bold" fill="#52ae68" stroke="#52ae68" stroke-width="0.15">8</text>
<text x="389.82" y="495.00" textLength="4.35" lengthAdjust="spacingAndGlyphs" font-size="12.35" font-weight="bold" fill="#52ae68" stroke="#52ae68" stroke-width="0.15">:</text>
<text x="407.03" y="495.00" textLength="8.19" lengthAdjust="spacingAndGlyphs" font-size="12.35" font-weight="bold" fill="#52ae68" stroke="#52ae68" stroke-width="0.15">7</text>
<text x="387.78" y="521.00" textLength="8.19" lengthAdjust="spacingAndGlyphs" font-size="12.35" font-weight="bold" fill="#52ae68" stroke="#52ae68" stroke-width="0.15">1</text>
<text x="428.48" y="495.00" textLength="16.39" lengthAdjust="spacingAndGlyphs" font-size="12.35" font-weight="bold" fill="#52ae68" stroke="#52ae68" stroke-width="0.15">10</text>
<text x="453.62" y="495.00" textLength="4.35" lengthAdjust="spacingAndGlyphs" font-size="12.35" font-weight="bold" fill="#52ae68" stroke="#52ae68" stroke-width="0.15">:</text>
<text x="470.68" y="495.00" textLength="8.19" lengthAdjust="spacingAndGlyphs" font-size="12.35" font-weight="bold" fill="#52ae68" stroke="#52ae68" stroke-width="0.15">1</text>
<text x="451.58" y="521.00" textLength="8.19" lengthAdjust="spacingAndGlyphs" font-size="12.35" font-weight="bold" fill="#52ae68" stroke="#52ae68" stroke-width="0.15">1</text>
<text x="496.83" y="495.00" textLength="8.19" lengthAdjust="spacingAndGlyphs" font-size="12.35" font-weight="bold" fill="#52ae68" stroke="#52ae68" stroke-width="0.15">7</text>
<text x="517.42" y="495.00" textLength="4.35" lengthAdjust="spacingAndGlyphs" font-size="12.35" font-weight="bold" fill="#52ae68" stroke="#52ae68" stroke-width="0.15">:</text>
<text x="534.72" y="495.00" textLength="8.19" lengthAdjust="spacingAndGlyphs" font-size="12.35" font-weight="bold" fill="#52ae68" stroke="#52ae68" stroke-width="0.15">2</text>
<text x="515.38" y="521.00" textLength="8.19" lengthAdjust="spacingAndGlyphs" font-size="12.35" font-weight="bold" fill="#52ae68" stroke="#52ae68" stroke-width="0.15">1</text>
<text x="556.08" y="495.00" textLength="16.39" lengthAdjust="spacingAndGlyphs" font-size="12.35" font-weight="bold" fill="#52ae68" stroke="#52ae68" stroke-width="0.15">10</text>
<text x="581.22" y="495.00" textLength="4.35" lengthAdjust="spacingAndGlyphs" font-size="12.35" font-weight="bold" fill="#52ae68" stroke="#52ae68" stroke-width="0.15">:</text>
<text x="598.34" y="495.00" textLength="8.19" lengthAdjust="spacingAndGlyphs" font-size="12.35" font-weight="bold" fill="#52ae68" stroke="#52ae68" stroke-width="0.15">6</text>
<text x="579.18" y="521.00" textLength="8.19" lengthAdjust="spacingAndGlyphs" font-size="12.35" font-weight="bold" fill="#52ae68" stroke="#52ae68" stroke-width="0.15">1</text>
<text x="644.74" y="508.00" textLength="7.73" lengthAdjust="spacingAndGlyphs" font-size="12.35" font-weight="bold" fill="#111111" stroke="#111111" stroke-width="0.15">5</text>
<text x="694.82" y="508.00" textLength="34.79" lengthAdjust="spacingAndGlyphs" font-size="12.35" font-weight="bold" fill="#111111" stroke="#111111" stroke-width="0.15">77,79</text>
<text x="769.02" y="508.00" textLength="7.73" lengthAdjust="spacingAndGlyphs" font-size="12.35" font-weight="bold" fill="#111111" stroke="#111111" stroke-width="0.15">1</text>
<text x="19.79" y="561.00" textLength="17.12" lengthAdjust="spacingAndGlyphs" font-size="12.35" font-weight="bold" fill="#111111" stroke="#111111" stroke-width="0.15">B3</text>
<text x="50.21" y="552.00" textLength="120.94" lengthAdjust="spacingAndGlyphs" font-size="12.35" font-weight="bold" fill="#111111" stroke="#111111" stroke-width="0.15">Россия 4 / Russia 4</text>
<text x="49.99" y="569.00" textLength="67.53" lengthAdjust="spacingAndGlyphs" font-size="12.35" font-weight="normal" fill="#111111" stroke="#111111" stroke-width="0.25">(Киселёва)</text>
<text x="242.23" y="548.00" textLength="8.19" lengthAdjust="spacingAndGlyphs" font-size="12.35" font-weight="bold" fill="#52ae68" stroke="#52ae68" stroke-width="0.15">7</text>
<text x="262.82" y="548.00" textLength="4.35" lengthAdjust="spacingAndGlyphs" font-size="12.35" font-weight="bold" fill="#52ae68" stroke="#52ae68" stroke-width="0.15">:</text>
<text x="279.88" y="548.00" textLength="8.19" lengthAdjust="spacingAndGlyphs" font-size="12.35" font-weight="bold" fill="#52ae68" stroke="#52ae68" stroke-width="0.15">1</text>
<text x="260.78" y="574.00" textLength="8.19" lengthAdjust="spacingAndGlyphs" font-size="12.35" font-weight="bold" fill="#52ae68" stroke="#52ae68" stroke-width="0.15">1</text>
<text x="305.73" y="548.00" textLength="8.19" lengthAdjust="spacingAndGlyphs" font-size="12.35" font-weight="bold" fill="#d23b35" stroke="#d23b35" stroke-width="0.15">7</text>
<text x="326.32" y="548.00" textLength="4.35" lengthAdjust="spacingAndGlyphs" font-size="12.35" font-weight="bold" fill="#d23b35" stroke="#d23b35" stroke-width="0.15">:</text>
<text x="343.51" y="548.00" textLength="8.19" lengthAdjust="spacingAndGlyphs" font-size="12.35" font-weight="bold" fill="#d23b35" stroke="#d23b35" stroke-width="0.15">8</text>
<text x="324.41" y="574.00" textLength="8.19" lengthAdjust="spacingAndGlyphs" font-size="12.35" font-weight="bold" fill="#d23b35" stroke="#d23b35" stroke-width="0.15">0</text>
<text x="433.03" y="548.00" textLength="8.19" lengthAdjust="spacingAndGlyphs" font-size="12.35" font-weight="bold" fill="#52ae68" stroke="#52ae68" stroke-width="0.15">7</text>
<text x="453.62" y="548.00" textLength="4.35" lengthAdjust="spacingAndGlyphs" font-size="12.35" font-weight="bold" fill="#52ae68" stroke="#52ae68" stroke-width="0.15">:</text>
<text x="470.92" y="548.00" textLength="8.19" lengthAdjust="spacingAndGlyphs" font-size="12.35" font-weight="bold" fill="#52ae68" stroke="#52ae68" stroke-width="0.15">2</text>
<text x="451.58" y="574.00" textLength="8.19" lengthAdjust="spacingAndGlyphs" font-size="12.35" font-weight="bold" fill="#52ae68" stroke="#52ae68" stroke-width="0.15">1</text>
<text x="496.86" y="548.00" textLength="8.19" lengthAdjust="spacingAndGlyphs" font-size="12.35" font-weight="bold" fill="#52ae68" stroke="#52ae68" stroke-width="0.15">9</text>
<text x="517.42" y="548.00" textLength="4.35" lengthAdjust="spacingAndGlyphs" font-size="12.35" font-weight="bold" fill="#52ae68" stroke="#52ae68" stroke-width="0.15">:</text>
<text x="534.61" y="548.00" textLength="8.19" lengthAdjust="spacingAndGlyphs" font-size="12.35" font-weight="bold" fill="#52ae68" stroke="#52ae68" stroke-width="0.15">4</text>
<text x="515.38" y="574.00" textLength="8.19" lengthAdjust="spacingAndGlyphs" font-size="12.35" font-weight="bold" fill="#52ae68" stroke="#52ae68" stroke-width="0.15">1</text>
<text x="560.61" y="548.00" textLength="8.19" lengthAdjust="spacingAndGlyphs" font-size="12.35" font-weight="bold" fill="#52ae68" stroke="#52ae68" stroke-width="0.15">8</text>
<text x="581.22" y="548.00" textLength="4.35" lengthAdjust="spacingAndGlyphs" font-size="12.35" font-weight="bold" fill="#52ae68" stroke="#52ae68" stroke-width="0.15">:</text>
<text x="598.36" y="548.00" textLength="8.19" lengthAdjust="spacingAndGlyphs" font-size="12.35" font-weight="bold" fill="#52ae68" stroke="#52ae68" stroke-width="0.15">3</text>
<text x="579.18" y="574.00" textLength="8.19" lengthAdjust="spacingAndGlyphs" font-size="12.35" font-weight="bold" fill="#52ae68" stroke="#52ae68" stroke-width="0.15">1</text>
<text x="644.79" y="561.00" textLength="7.73" lengthAdjust="spacingAndGlyphs" font-size="12.35" font-weight="bold" fill="#111111" stroke="#111111" stroke-width="0.15">4</text>
<text x="694.98" y="561.00" textLength="34.79" lengthAdjust="spacingAndGlyphs" font-size="12.35" font-weight="bold" fill="#111111" stroke="#111111" stroke-width="0.15">41,76</text>
<text x="769.25" y="561.00" textLength="7.73" lengthAdjust="spacingAndGlyphs" font-size="12.35" font-weight="bold" fill="#111111" stroke="#111111" stroke-width="0.15">2</text>
<text x="19.67" y="613.00" textLength="17.12" lengthAdjust="spacingAndGlyphs" font-size="12.35" font-weight="bold" fill="#111111" stroke="#111111" stroke-width="0.15">B4</text>
<text x="50.20" y="605.00" textLength="174.95" lengthAdjust="spacingAndGlyphs" font-size="12.35" font-weight="bold" fill="#111111" stroke="#111111" stroke-width="0.15">Калининград / Kaliningrad</text>
<text x="49.98" y="622.00" textLength="107.35" lengthAdjust="spacingAndGlyphs" font-size="12.35" font-weight="normal" fill="#111111" stroke="#111111" stroke-width="0.25">(Мирошниченко)</text>
<text x="242.21" y="601.00" textLength="8.19" lengthAdjust="spacingAndGlyphs" font-size="12.35" font-weight="bold" fill="#d23b35" stroke="#d23b35" stroke-width="0.15">4</text>
<text x="262.82" y="601.00" textLength="4.35" lengthAdjust="spacingAndGlyphs" font-size="12.35" font-weight="bold" fill="#d23b35" stroke="#d23b35" stroke-width="0.15">:</text>
<text x="280.01" y="601.00" textLength="8.19" lengthAdjust="spacingAndGlyphs" font-size="12.35" font-weight="bold" fill="#d23b35" stroke="#d23b35" stroke-width="0.15">8</text>
<text x="260.91" y="627.00" textLength="8.19" lengthAdjust="spacingAndGlyphs" font-size="12.35" font-weight="bold" fill="#d23b35" stroke="#d23b35" stroke-width="0.15">0</text>
<text x="305.58" y="601.00" textLength="8.19" lengthAdjust="spacingAndGlyphs" font-size="12.35" font-weight="bold" fill="#d23b35" stroke="#d23b35" stroke-width="0.15">1</text>
<text x="326.32" y="601.00" textLength="4.35" lengthAdjust="spacingAndGlyphs" font-size="12.35" font-weight="bold" fill="#d23b35" stroke="#d23b35" stroke-width="0.15">:</text>
<text x="338.98" y="601.00" textLength="16.39" lengthAdjust="spacingAndGlyphs" font-size="12.35" font-weight="bold" fill="#d23b35" stroke="#d23b35" stroke-width="0.15">10</text>
<text x="324.41" y="627.00" textLength="8.19" lengthAdjust="spacingAndGlyphs" font-size="12.35" font-weight="bold" fill="#d23b35" stroke="#d23b35" stroke-width="0.15">0</text>
<text x="369.32" y="601.00" textLength="8.19" lengthAdjust="spacingAndGlyphs" font-size="12.35" font-weight="bold" fill="#d23b35" stroke="#d23b35" stroke-width="0.15">2</text>
<text x="389.82" y="601.00" textLength="4.35" lengthAdjust="spacingAndGlyphs" font-size="12.35" font-weight="bold" fill="#d23b35" stroke="#d23b35" stroke-width="0.15">:</text>
<text x="407.03" y="601.00" textLength="8.19" lengthAdjust="spacingAndGlyphs" font-size="12.35" font-weight="bold" fill="#d23b35" stroke="#d23b35" stroke-width="0.15">7</text>
<text x="387.91" y="627.00" textLength="8.19" lengthAdjust="spacingAndGlyphs" font-size="12.35" font-weight="bold" fill="#d23b35" stroke="#d23b35" stroke-width="0.15">0</text>
<text x="496.83" y="601.00" textLength="8.19" lengthAdjust="spacingAndGlyphs" font-size="12.35" font-weight="bold" fill="#52ae68" stroke="#52ae68" stroke-width="0.15">7</text>
<text x="517.42" y="601.00" textLength="4.35" lengthAdjust="spacingAndGlyphs" font-size="12.35" font-weight="bold" fill="#52ae68" stroke="#52ae68" stroke-width="0.15">:</text>
<text x="534.54" y="601.00" textLength="8.19" lengthAdjust="spacingAndGlyphs" font-size="12.35" font-weight="bold" fill="#52ae68" stroke="#52ae68" stroke-width="0.15">6</text>
<text x="515.38" y="627.00" textLength="8.19" lengthAdjust="spacingAndGlyphs" font-size="12.35" font-weight="bold" fill="#52ae68" stroke="#52ae68" stroke-width="0.15">1</text>
<text x="560.56" y="601.00" textLength="8.19" lengthAdjust="spacingAndGlyphs" font-size="12.35" font-weight="bold" fill="#d23b35" stroke="#d23b35" stroke-width="0.15">3</text>
<text x="581.22" y="601.00" textLength="4.35" lengthAdjust="spacingAndGlyphs" font-size="12.35" font-weight="bold" fill="#d23b35" stroke="#d23b35" stroke-width="0.15">:</text>
<text x="598.43" y="601.00" textLength="8.19" lengthAdjust="spacingAndGlyphs" font-size="12.35" font-weight="bold" fill="#d23b35" stroke="#d23b35" stroke-width="0.15">7</text>
<text x="579.31" y="627.00" textLength="8.19" lengthAdjust="spacingAndGlyphs" font-size="12.35" font-weight="bold" fill="#d23b35" stroke="#d23b35" stroke-width="0.15">0</text>
<text x="644.67" y="613.00" textLength="7.73" lengthAdjust="spacingAndGlyphs" font-size="12.35" font-weight="bold" fill="#111111" stroke="#111111" stroke-width="0.15">1</text>
<text x="694.87" y="613.00" textLength="34.79" lengthAdjust="spacingAndGlyphs" font-size="12.35" font-weight="bold" fill="#111111" stroke="#111111" stroke-width="0.15">90,30</text>
<text x="769.09" y="613.00" textLength="7.73" lengthAdjust="spacingAndGlyphs" font-size="12.35" font-weight="bold" fill="#111111" stroke="#111111" stroke-width="0.15">5</text>
<text x="19.85" y="666.00" textLength="17.12" lengthAdjust="spacingAndGlyphs" font-size="12.35" font-weight="bold" fill="#111111" stroke="#111111" stroke-width="0.15">B5</text>
<text x="50.24" y="658.00" textLength="110.60" lengthAdjust="spacingAndGlyphs" font-size="12.35" font-weight="bold" fill="#111111" stroke="#111111" stroke-width="0.15">Москва / Moscow</text>
<text x="49.97" y="675.00" textLength="67.26" lengthAdjust="spacingAndGlyphs" font-size="12.35" font-weight="normal" fill="#111111" stroke="#111111" stroke-width="0.25">(Тульская)</text>
<text x="242.21" y="654.00" textLength="8.19" lengthAdjust="spacingAndGlyphs" font-size="12.35" font-weight="bold" fill="#d23b35" stroke="#d23b35" stroke-width="0.15">4</text>
<text x="262.82" y="654.00" textLength="4.35" lengthAdjust="spacingAndGlyphs" font-size="12.35" font-weight="bold" fill="#d23b35" stroke="#d23b35" stroke-width="0.15">:</text>
<text x="280.06" y="654.00" textLength="8.19" lengthAdjust="spacingAndGlyphs" font-size="12.35" font-weight="bold" fill="#d23b35" stroke="#d23b35" stroke-width="0.15">9</text>
<text x="260.91" y="679.00" textLength="8.19" lengthAdjust="spacingAndGlyphs" font-size="12.35" font-weight="bold" fill="#d23b35" stroke="#d23b35" stroke-width="0.15">0</text>
<text x="305.82" y="654.00" textLength="8.19" lengthAdjust="spacingAndGlyphs" font-size="12.35" font-weight="bold" fill="#d23b35" stroke="#d23b35" stroke-width="0.15">2</text>
<text x="326.32" y="654.00" textLength="4.35" lengthAdjust="spacingAndGlyphs" font-size="12.35" font-weight="bold" fill="#d23b35" stroke="#d23b35" stroke-width="0.15">:</text>
<text x="343.53" y="654.00" textLength="8.19" lengthAdjust="spacingAndGlyphs" font-size="12.35" font-weight="bold" fill="#d23b35" stroke="#d23b35" stroke-width="0.15">7</text>
<text x="324.41" y="679.00" textLength="8.19" lengthAdjust="spacingAndGlyphs" font-size="12.35" font-weight="bold" fill="#d23b35" stroke="#d23b35" stroke-width="0.15">0</text>
<text x="369.21" y="654.00" textLength="8.19" lengthAdjust="spacingAndGlyphs" font-size="12.35" font-weight="bold" fill="#d23b35" stroke="#d23b35" stroke-width="0.15">4</text>
<text x="389.82" y="654.00" textLength="4.35" lengthAdjust="spacingAndGlyphs" font-size="12.35" font-weight="bold" fill="#d23b35" stroke="#d23b35" stroke-width="0.15">:</text>
<text x="407.06" y="654.00" textLength="8.19" lengthAdjust="spacingAndGlyphs" font-size="12.35" font-weight="bold" fill="#d23b35" stroke="#d23b35" stroke-width="0.15">9</text>
<text x="387.91" y="679.00" textLength="8.19" lengthAdjust="spacingAndGlyphs" font-size="12.35" font-weight="bold" fill="#d23b35" stroke="#d23b35" stroke-width="0.15">0</text>
<text x="432.94" y="654.00" textLength="8.19" lengthAdjust="spacingAndGlyphs" font-size="12.35" font-weight="bold" fill="#d23b35" stroke="#d23b35" stroke-width="0.15">6</text>
<text x="453.62" y="654.00" textLength="4.35" lengthAdjust="spacingAndGlyphs" font-size="12.35" font-weight="bold" fill="#d23b35" stroke="#d23b35" stroke-width="0.15">:</text>
<text x="470.83" y="654.00" textLength="8.19" lengthAdjust="spacingAndGlyphs" font-size="12.35" font-weight="bold" fill="#d23b35" stroke="#d23b35" stroke-width="0.15">7</text>
<text x="451.71" y="679.00" textLength="8.19" lengthAdjust="spacingAndGlyphs" font-size="12.35" font-weight="bold" fill="#d23b35" stroke="#d23b35" stroke-width="0.15">0</text>
<text x="560.72" y="654.00" textLength="8.19" lengthAdjust="spacingAndGlyphs" font-size="12.35" font-weight="bold" fill="#d23b35" stroke="#d23b35" stroke-width="0.15">2</text>
<text x="581.22" y="654.00" textLength="4.35" lengthAdjust="spacingAndGlyphs" font-size="12.35" font-weight="bold" fill="#d23b35" stroke="#d23b35" stroke-width="0.15">:</text>
<text x="598.46" y="654.00" textLength="8.19" lengthAdjust="spacingAndGlyphs" font-size="12.35" font-weight="bold" fill="#d23b35" stroke="#d23b35" stroke-width="0.15">9</text>
<text x="579.31" y="679.00" textLength="8.19" lengthAdjust="spacingAndGlyphs" font-size="12.35" font-weight="bold" fill="#d23b35" stroke="#d23b35" stroke-width="0.15">0</text>
<text x="644.79" y="666.00" textLength="7.73" lengthAdjust="spacingAndGlyphs" font-size="12.35" font-weight="bold" fill="#111111" stroke="#111111" stroke-width="0.15">0</text>
<text x="690.83" y="666.00" textLength="42.52" lengthAdjust="spacingAndGlyphs" font-size="12.35" font-weight="bold" fill="#111111" stroke="#111111" stroke-width="0.15">118,57</text>
<text x="769.08" y="666.00" textLength="7.73" lengthAdjust="spacingAndGlyphs" font-size="12.35" font-weight="bold" fill="#111111" stroke="#111111" stroke-width="0.15">6</text>
<text x="19.73" y="719.00" textLength="17.12" lengthAdjust="spacingAndGlyphs" font-size="12.35" font-weight="bold" fill="#111111" stroke="#111111" stroke-width="0.15">B6</text>
<text x="50.20" y="702.00" textLength="119.59" lengthAdjust="spacingAndGlyphs" font-size="12.35" font-weight="bold" fill="#111111" stroke="#111111" stroke-width="0.15">Беларусь-Россия /</text>
<text x="50.21" y="718.00" textLength="93.14" lengthAdjust="spacingAndGlyphs" font-size="12.35" font-weight="bold" fill="#111111" stroke="#111111" stroke-width="0.15">Belarus-Russia</text>
<text x="49.97" y="735.00" textLength="84.97" lengthAdjust="spacingAndGlyphs" font-size="12.35" font-weight="normal" fill="#111111" stroke="#111111" stroke-width="0.25">(Прививкова)</text>
<text x="242.16" y="706.00" textLength="8.19" lengthAdjust="spacingAndGlyphs" font-size="12.35" font-weight="bold" fill="#d23b35" stroke="#d23b35" stroke-width="0.15">5</text>
<text x="262.82" y="706.00" textLength="4.35" lengthAdjust="spacingAndGlyphs" font-size="12.35" font-weight="bold" fill="#d23b35" stroke="#d23b35" stroke-width="0.15">:</text>
<text x="280.01" y="706.00" textLength="8.19" lengthAdjust="spacingAndGlyphs" font-size="12.35" font-weight="bold" fill="#d23b35" stroke="#d23b35" stroke-width="0.15">8</text>
<text x="260.91" y="732.00" textLength="8.19" lengthAdjust="spacingAndGlyphs" font-size="12.35" font-weight="bold" fill="#d23b35" stroke="#d23b35" stroke-width="0.15">0</text>
<text x="305.64" y="706.00" textLength="8.19" lengthAdjust="spacingAndGlyphs" font-size="12.35" font-weight="bold" fill="#d23b35" stroke="#d23b35" stroke-width="0.15">6</text>
<text x="326.32" y="706.00" textLength="4.35" lengthAdjust="spacingAndGlyphs" font-size="12.35" font-weight="bold" fill="#d23b35" stroke="#d23b35" stroke-width="0.15">:</text>
<text x="338.98" y="706.00" textLength="16.39" lengthAdjust="spacingAndGlyphs" font-size="12.35" font-weight="bold" fill="#d23b35" stroke="#d23b35" stroke-width="0.15">10</text>
<text x="324.41" y="732.00" textLength="8.19" lengthAdjust="spacingAndGlyphs" font-size="12.35" font-weight="bold" fill="#d23b35" stroke="#d23b35" stroke-width="0.15">0</text>
<text x="369.16" y="706.00" textLength="8.19" lengthAdjust="spacingAndGlyphs" font-size="12.35" font-weight="bold" fill="#d23b35" stroke="#d23b35" stroke-width="0.15">3</text>
<text x="389.82" y="706.00" textLength="4.35" lengthAdjust="spacingAndGlyphs" font-size="12.35" font-weight="bold" fill="#d23b35" stroke="#d23b35" stroke-width="0.15">:</text>
<text x="407.01" y="706.00" textLength="8.19" lengthAdjust="spacingAndGlyphs" font-size="12.35" font-weight="bold" fill="#d23b35" stroke="#d23b35" stroke-width="0.15">8</text>
<text x="387.91" y="732.00" textLength="8.19" lengthAdjust="spacingAndGlyphs" font-size="12.35" font-weight="bold" fill="#d23b35" stroke="#d23b35" stroke-width="0.15">0</text>
<text x="433.03" y="706.00" textLength="8.19" lengthAdjust="spacingAndGlyphs" font-size="12.35" font-weight="bold" fill="#52ae68" stroke="#52ae68" stroke-width="0.15">7</text>
<text x="453.62" y="706.00" textLength="4.35" lengthAdjust="spacingAndGlyphs" font-size="12.35" font-weight="bold" fill="#52ae68" stroke="#52ae68" stroke-width="0.15">:</text>
<text x="470.76" y="706.00" textLength="8.19" lengthAdjust="spacingAndGlyphs" font-size="12.35" font-weight="bold" fill="#52ae68" stroke="#52ae68" stroke-width="0.15">3</text>
<text x="451.58" y="732.00" textLength="8.19" lengthAdjust="spacingAndGlyphs" font-size="12.35" font-weight="bold" fill="#52ae68" stroke="#52ae68" stroke-width="0.15">1</text>
<text x="496.86" y="706.00" textLength="8.19" lengthAdjust="spacingAndGlyphs" font-size="12.35" font-weight="bold" fill="#52ae68" stroke="#52ae68" stroke-width="0.15">9</text>
<text x="517.42" y="706.00" textLength="4.35" lengthAdjust="spacingAndGlyphs" font-size="12.35" font-weight="bold" fill="#52ae68" stroke="#52ae68" stroke-width="0.15">:</text>
<text x="534.72" y="706.00" textLength="8.19" lengthAdjust="spacingAndGlyphs" font-size="12.35" font-weight="bold" fill="#52ae68" stroke="#52ae68" stroke-width="0.15">2</text>
<text x="515.38" y="732.00" textLength="8.19" lengthAdjust="spacingAndGlyphs" font-size="12.35" font-weight="bold" fill="#52ae68" stroke="#52ae68" stroke-width="0.15">1</text>
<text x="644.90" y="719.00" textLength="7.73" lengthAdjust="spacingAndGlyphs" font-size="12.35" font-weight="bold" fill="#111111" stroke="#111111" stroke-width="0.15">2</text>
<text x="694.98" y="719.00" textLength="34.79" lengthAdjust="spacingAndGlyphs" font-size="12.35" font-weight="bold" fill="#111111" stroke="#111111" stroke-width="0.15">80,73</text>
<text x="769.14" y="719.00" textLength="7.73" lengthAdjust="spacingAndGlyphs" font-size="12.35" font-weight="bold" fill="#111111" stroke="#111111" stroke-width="0.15">4</text>
</svg>
</body></html>
